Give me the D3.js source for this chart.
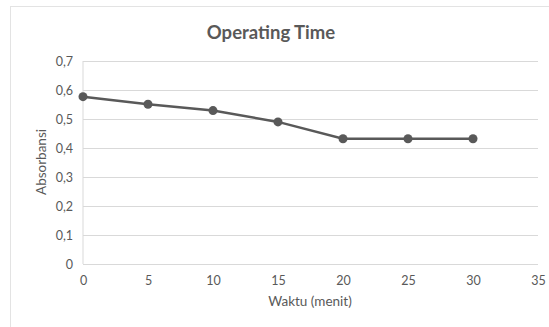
<!DOCTYPE html>
<html><head><meta charset="utf-8">
<script src="https://cdn.jsdelivr.net/npm/d3@7"></script>
<style>body{margin:0;background:#fff}svg{display:block}text{font-family:Lato,"Open Sans",sans-serif}</style>
</head><body>
<svg id="c" width="549" height="327"></svg>
<script>
const times = [0, 5, 10, 15, 20, 25, 30];
const absorbance = [0.577, 0.551, 0.529, 0.490, 0.432, 0.432, 0.432];
const xTicks = [0, 5, 10, 15, 20, 25, 30, 35];
const yTicks = [0, 0.1, 0.2, 0.3, 0.4, 0.5, 0.6, 0.7];
const title = "Operating Time";
const xTitle = "Waktu (menit)";
const yTitle = "Absorbansi";

const svg = d3.select("#c");
const m = {l:83, r:538, t:61, b:264};
const x = d3.scaleLinear().domain([0,35]).range([m.l, m.r]);
const y = d3.scaleLinear().domain([0,0.7]).range([m.b, m.t]);
const grey = "#595959";

svg.append("rect").attr("x",10.5).attr("y",6.5).attr("width",560).attr("height",340)
  .attr("fill","#fff").attr("stroke","#e3e3e3");

const yAxis = d3.axisLeft(y).tickValues(yTicks).tickSize(-(m.r-m.l)).tickPadding(10)
  .tickFormat(d => d3.format(".1f")(d).replace(".", ",").replace(/^0,0$/,"0"));
const gy = svg.append("g").attr("transform",`translate(${m.l},0)`).call(yAxis);
gy.select(".domain").remove();
gy.selectAll("line").attr("stroke","#d9d9d9");
gy.selectAll("text").attr("fill",grey).attr("font-size",12.5);
svg.append("line").attr("x1",m.l).attr("x2",m.l).attr("y1",m.t).attr("y2",m.b).attr("stroke","#d9d9d9");

const xAxis = d3.axisBottom(x).tickValues(xTicks).tickSize(0).tickPadding(12);
const gx = svg.append("g").attr("transform",`translate(0,${m.b})`).call(xAxis);
gx.select(".domain").remove();
gx.selectAll("text").attr("fill",grey).attr("font-size",12.5);

const data = times.map((t,i)=>({t, v:absorbance[i]}));
svg.append("path").datum(data).attr("fill","none").attr("stroke",grey).attr("stroke-width",2.5)
  .attr("d", d3.line().x(d=>x(d.t)).y(d=>y(d.v)));
svg.selectAll("circle.pt").data(data).enter().append("circle").attr("class","pt")
  .attr("cx",d=>x(d.t)).attr("cy",d=>y(d.v)).attr("r",4.5).attr("fill",grey);

svg.append("text").attr("x",271).attr("y",39).attr("text-anchor","middle")
  .attr("font-size",18.5).attr("font-weight","bold").attr("fill",grey).text(title);
svg.append("text").attr("x",310).attr("y",306).attr("text-anchor","middle")
  .attr("font-size",13.5).attr("fill",grey).text(xTitle);
svg.append("text").attr("transform","translate(46,162) rotate(-90)").attr("text-anchor","middle")
  .attr("font-size",13.5).attr("fill",grey).text(yTitle);
</script>
</body></html>
